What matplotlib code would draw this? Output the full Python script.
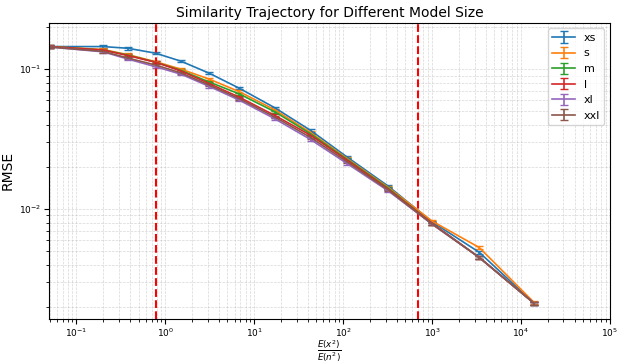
import matplotlib
matplotlib.use("Agg")
import matplotlib.pyplot as plt

# x values (signal to noise power ratio)
snr = [0.05, 0.2, 0.38, 0.78, 1.5, 3.1, 6.8, 17, 43, 110, 320, 1000, 3400, 14000]

models = ["xs", "s", "m", "l", "xl", "xxl"]

rmse = {
    "xs":  [0.145, 0.145, 0.141, 0.130, 0.114, 0.0937, 0.0730, 0.0530, 0.0365, 0.0236, 0.0146, 0.0081, 0.0049, 0.00212],
    "s":   [0.145, 0.138, 0.127, 0.113, 0.100, 0.0850, 0.0690, 0.0512, 0.0352, 0.0230, 0.0143, 0.0082, 0.0053, 0.00215],
    "m":   [0.145, 0.137, 0.126, 0.112, 0.098, 0.0810, 0.0665, 0.0496, 0.0345, 0.0227, 0.0141, 0.0079, 0.0045, 0.00212],
    "l":   [0.145, 0.137, 0.125, 0.112, 0.097, 0.0790, 0.0630, 0.0467, 0.0337, 0.0224, 0.0139, 0.0079, 0.0045, 0.00212],
    "xl":  [0.144, 0.133, 0.118, 0.104, 0.092, 0.0754, 0.0600, 0.0442, 0.0314, 0.0212, 0.0135, 0.0078, 0.0045, 0.00212],
    "xxl": [0.144, 0.134, 0.120, 0.107, 0.094, 0.0770, 0.0615, 0.0455, 0.0325, 0.0218, 0.0137, 0.0078, 0.0045, 0.00212],
}

# thresholds marked on the plot
thresholds = [0.78, 690]

fig, ax = plt.subplots(figsize=(6.18, 3.64), dpi=100)
fig.subplots_adjust(left=0.079, right=0.987, top=0.937, bottom=0.125)

for name in models:
    vals = rmse[name]
    err = [v * 0.02 for v in vals]
    ax.errorbar(snr, vals, yerr=err, label=name, capsize=3, linewidth=1.2)

for t in thresholds:
    ax.axvline(t, color="red", linestyle="--", linewidth=1.5)

ax.set_xscale("log")
ax.set_yscale("log")
ax.set_xlim(0.049, 1e5)
ax.set_ylim(0.00165, 0.214)
ax.grid(True, which="both", linestyle="--", linewidth=0.5, alpha=0.5)
ax.tick_params(labelsize=6.5, pad=2)

ax.set_title("Similarity Trajectory for Different Model Size", fontsize=10, pad=4)
ax.set_xlabel(r"$\frac{E(x^2)}{E(n^2)}$", fontsize=9, labelpad=0)
ax.set_ylabel("RMSE", fontsize=10, labelpad=3)
ax.legend(loc="upper right", fontsize=8)

plt.savefig("out.png")
